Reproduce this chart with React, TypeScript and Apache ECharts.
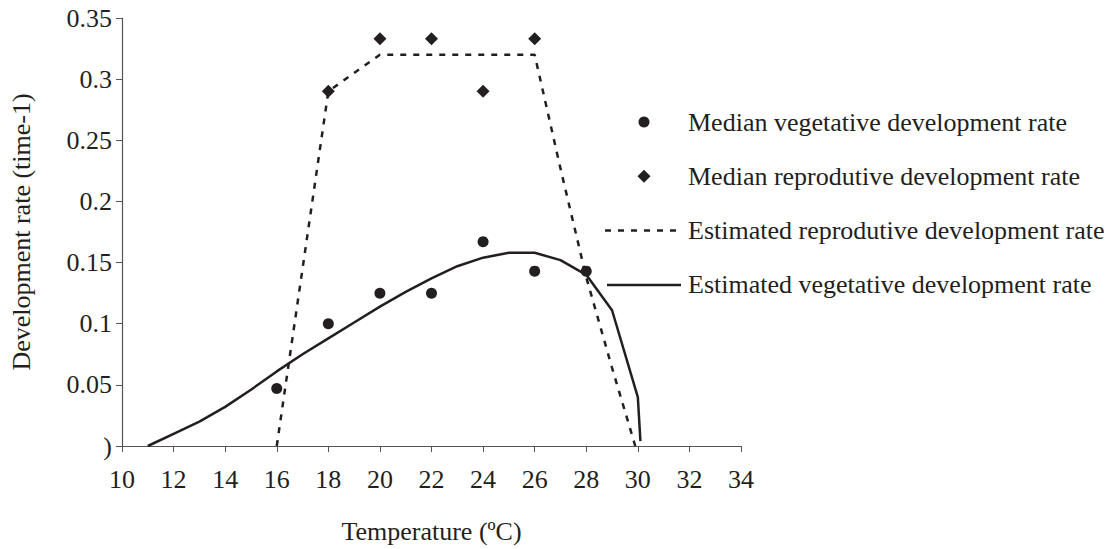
import React, { useEffect, useRef } from "react";
import * as echarts from "echarts";

const xTicks = [10, 12, 14, 16, 18, 20, 22, 24, 26, 28, 30, 32, 34];
const yTickLabels = [")", "0.05", "0.1", "0.15", "0.2", "0.25", "0.3", "0.35"];

const vegMedianTemp = [16, 18, 20, 22, 24, 26, 28];
const vegMedianRate = [0.047, 0.1, 0.125, 0.125, 0.167, 0.143, 0.143];

const repMedianTemp = [18, 20, 22, 24, 26];
const repMedianRate = [0.29, 0.333, 0.333, 0.29, 0.333];

const repEstTemp = [16, 18, 20, 26, 27, 28, 29, 29.9];
const repEstRate = [0, 0.29, 0.32, 0.32, 0.227, 0.138, 0.064, 0];

const vegEstTemp = [11, 12, 13, 14, 15, 16, 17, 18, 19, 20, 21, 22, 23, 24, 25, 26, 27, 28, 29, 30, 30.1];
const vegEstRate = [0, 0.01, 0.02, 0.032, 0.046, 0.061, 0.075, 0.088, 0.101, 0.114, 0.126, 0.137, 0.147, 0.154, 0.158, 0.158, 0.152, 0.14, 0.111, 0.04, 0.004];

const names = [
  "Median vegetative development rate",
  "Median reprodutive development rate",
  "Estimated reprodutive development rate",
  "Estimated vegetative development rate",
];

const INK = "#231f20";
const FONT = "'Liberation Serif', 'Times New Roman', serif";
const FS = 26;

const zip = (xs: number[], ys: number[]) => xs.map((x, i) => [x, ys[i]]);

export default function App() {
  const ref = useRef<HTMLDivElement>(null);
  useEffect(() => {
    if (!ref.current) return;
    const chart = echarts.init(ref.current, null, { renderer: "svg" });
    const legendTop = 109;
    const legendLeft = 605;
    const legendStep = 54.3;
    const rowY = (i: number) => legendTop + i * legendStep + FS / 2;
    const iconX = legendLeft + 39;
    chart.setOption({
      animation: false,
      backgroundColor: "#ffffff",
      textStyle: { fontFamily: FONT, color: INK },
      grid: { left: 111, right: 379, top: 18, bottom: 96, containLabel: false },
      legend: {
        orient: "vertical",
        left: legendLeft,
        top: legendTop,
        padding: 0,
        itemWidth: 78,
        itemHeight: 11,
        itemGap: legendStep - FS,
        data: names.map((n) => ({ name: n, icon: "none" })),
        textStyle: { fontFamily: FONT, fontSize: FS, color: INK },
        selectedMode: false,
      },
      graphic: [
        {
          type: "circle",
          shape: { cx: iconX, cy: rowY(0), r: 5.5 },
          style: { fill: INK },
        },
        {
          type: "polygon",
          shape: {
            points: [
              [iconX, rowY(1) - 6.5],
              [iconX + 6.5, rowY(1)],
              [iconX, rowY(1) + 6.5],
              [iconX - 6.5, rowY(1)],
            ],
          },
          style: { fill: INK },
        },
        {
          type: "line",
          shape: { x1: legendLeft, y1: rowY(2), x2: legendLeft + 78, y2: rowY(2) },
          style: { stroke: INK, lineWidth: 2.5, lineDash: [6, 7] },
        },
        {
          type: "line",
          shape: { x1: legendLeft + 2, y1: rowY(3), x2: legendLeft + 76, y2: rowY(3) },
          style: { stroke: INK, lineWidth: 2.5 },
        },
      ],
      xAxis: {
        type: "value",
        min: 10,
        max: 34,
        interval: 2,
        name: "Temperature (ºC)",
        nameLocation: "middle",
        nameGap: 72,
        nameTextStyle: { fontFamily: FONT, fontSize: FS, color: INK },
        axisLine: { lineStyle: { color: "#555", width: 1.2 } },
        axisTick: { length: 6, lineStyle: { color: "#555" } },
        splitLine: { show: false },
        axisLabel: {
          margin: 20,
          fontFamily: FONT,
          fontSize: FS,
          color: INK,
          formatter: (v: number) => String(xTicks.find((t) => t === v) ?? v),
        },
      },
      yAxis: {
        type: "value",
        min: 0,
        max: 0.35,
        interval: 0.05,
        name: "Development rate (time-1)",
        nameLocation: "middle",
        nameGap: 88,
        nameTextStyle: { fontFamily: FONT, fontSize: FS, color: INK },
        axisLine: { show: true, lineStyle: { color: "#555", width: 1.2 } },
        axisTick: { show: true, length: 6, lineStyle: { color: "#555" } },
        splitLine: { show: false },
        axisLabel: {
          margin: 10,
          fontFamily: FONT,
          fontSize: FS,
          color: INK,
          formatter: (v: number) => yTickLabels[Math.round(v / 0.05)] ?? "",
        },
      },
      series: [
        {
          name: names[0],
          type: "scatter",
          symbol: "circle",
          symbolSize: 11,
          itemStyle: { color: INK, opacity: 1 },
          data: zip(vegMedianTemp, vegMedianRate),
          z: 5,
        },
        {
          name: names[1],
          type: "scatter",
          symbol: "diamond",
          symbolSize: 13,
          itemStyle: { color: INK, opacity: 1 },
          data: zip(repMedianTemp, repMedianRate),
          z: 5,
        },
        {
          name: names[2],
          type: "line",
          symbol: "none",
          showSymbol: false,
          itemStyle: { color: INK },
          lineStyle: { color: INK, width: 2.5, type: [6, 7] },
          data: zip(repEstTemp, repEstRate),
        },
        {
          name: names[3],
          type: "line",
          symbol: "none",
          showSymbol: false,
          itemStyle: { color: INK },
          lineStyle: { color: INK, width: 2.5, type: "solid" },
          data: zip(vegEstTemp, vegEstRate),
        },
      ],
    });
    return () => chart.dispose();
  }, []);
  return (
    <div
      ref={ref}
      style={{ position: "fixed", left: 0, top: 0, width: 1120, height: 549, background: "#fff" }}
    />
  );
}
